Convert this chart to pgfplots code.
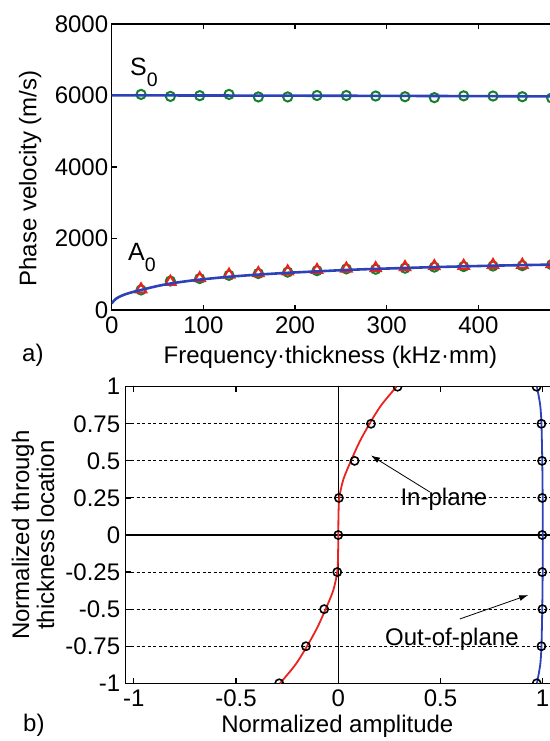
\documentclass[border=0pt]{standalone}
\usepackage{fontspec}
\setmainfont{Liberation Sans}
\usepackage{pgfplots}
\pgfplotsset{compat=1.18}
\usetikzlibrary{arrows.meta}

\definecolor{mgreen}{RGB}{20,128,40}
\definecolor{mred}{RGB}{235,35,30}
\definecolor{mblue}{RGB}{45,65,185}
\newcommand{\fs}{\fontsize{24}{25}\selectfont}

\pgfplotsset{
  myax/.style={
    scale only axis,
    anchor=north west,
    font=\fs,
    /pgf/number format/assume math mode=true,
    axis line style={line width=1.2pt, black},
    every tick/.style={line width=1.2pt, black},
    major tick length=5pt,
    tick align=inside,
    clip marker paths=true,
  }
}

\begin{document}
\begin{tikzpicture}
% ---------------- a) phase velocity ----------------
\begin{axis}[myax,
  at={(111.7pt,-24pt)},
  width=458.3pt, height=286pt,
  xmin=0, xmax=500, ymin=0, ymax=8000,
  xtick={0,100,200,300,400}, xticklabels={0,100,200,300,400},
  ytick={0,2000,4000,6000,8000}, yticklabels={0,2000,4000,6000,8000},
  xticklabel shift=3pt,
  xlabel={Frequency·thickness (kHz·mm)},
  xlabel style={at={(axis description cs:0,0)}, anchor=base, xshift=218.7pt, yshift=-53pt},
  ylabel={Phase velocity (m/s)},
  ylabel style={at={(axis description cs:-0.178,0.46)}, anchor=center},
]
% S0 measured (circles)
\addplot[only marks, mark=o, mark size=4.6pt, mgreen, mark options={line width=2pt}] coordinates {
(32,6030) (64,5975) (96,5995) (128,6030) (160,5960) (192,5960) (224,6000) (256,6000)
(288,5985) (320,5966) (352,5940) (384,5990) (416,5985) (448,5966) (480,5930)};
% A0 measured (circles)
\addplot[only marks, mark=o, mark size=4.6pt, mgreen, mark options={line width=2pt}] coordinates {
(32,560) (64,810) (96,880) (128,970) (160,1020) (192,1060) (224,1100) (256,1150)
(288,1140) (320,1170) (352,1200) (384,1215) (416,1230) (448,1240) (480,1265)};
% A0 measured (triangles)
\addplot[only marks, mark=triangle, mark size=6pt, mred, mark options={line width=2pt}] coordinates {
(32,580) (64,790) (96,890) (128,990) (160,1030) (192,1080) (224,1120) (256,1160)
(288,1170) (320,1200) (352,1225) (384,1235) (416,1260) (448,1265) (480,1285)};
% theory S0
\addplot[mblue, line width=2.6pt] coordinates {
(0,6005) (100,6000) (200,5995) (300,5990) (400,5982) (500,5974)};
% theory A0
\addplot[mblue, line width=2.6pt, smooth] coordinates {
(0,180) (2,250) (5,320) (10,390) (16,450) (24,510) (32,560) (48,660) (64,740) (80,800)
(96,850) (128,930) (160,990) (192,1040) (224,1080) (256,1120) (288,1150) (320,1175)
(352,1200) (384,1220) (416,1240) (448,1255) (480,1270) (500,1278)};
\node[anchor=base west, font=\fontsize{25}{25}\selectfont, inner sep=0pt] at (axis cs:20,6573)
  {S\raisebox{-11pt}{\fontsize{19.5}{19.5}\selectfont 0}};
\node[anchor=base west, font=\fontsize{25}{25}\selectfont, inner sep=0pt] at (axis cs:17.8,1379)
  {A\raisebox{-11pt}{\fontsize{19.5}{19.5}\selectfont 0}};
\end{axis}

% ---------------- b) mode shapes ----------------
\begin{axis}[myax,
  at={(125.7pt,-386.7pt)},
  width=437.4pt, height=296.6pt,
  xmin=-1.04, xmax=1.1, ymin=-1, ymax=1,
  xtick={-1,-0.5,0,0.5,1}, xticklabels={-1,-0.5,0,0.5,1},
  ytick={-1,-0.75,-0.5,-0.25,0,0.25,0.5,0.75,1},
  yticklabels={-1,-0.75,-0.5,-0.25,0,0.25,0.5,0.75,1},
  xticklabel shift=3pt,
  yticklabel shift=2pt,
  ymajorgrids,
  grid style={dash pattern=on 3pt off 2.5pt, line width=1pt, black},
  xlabel={Normalized amplitude},
  xlabel style={at={(axis description cs:0,0)}, anchor=base, xshift=211.6pt, yshift=-49pt},
  ylabel={Normalized through\\thickness location},
  ylabel style={align=center, at={(axis description cs:-0.212,0.5)}, anchor=center},
]
\addplot[black, line width=1.1pt] coordinates {(-1.04,0) (1.1,0)};
\addplot[black, line width=1.1pt] coordinates {(0,-1) (0,1)};
% in-plane theory
\addplot[mred, line width=1.8pt, smooth] coordinates {
(-0.285,-1) (-0.21,-0.875) (-0.153,-0.75) (-0.103,-0.625) (-0.062,-0.5) (-0.025,-0.375)
(-0.005,-0.25) (-0.001,-0.125) (0,0) (0.001,0.125) (0.005,0.25) (0.025,0.375)
(0.062,0.5) (0.103,0.625) (0.153,0.75) (0.21,0.875) (0.285,1)};
% out-of-plane theory
\addplot[mblue, line width=1.8pt, smooth] coordinates {
(0.972,-1) (0.988,-0.875) (0.994,-0.75) (0.998,-0.5) (1.0,-0.25) (1.0,0)
(1.0,0.25) (0.998,0.5) (0.994,0.75) (0.988,0.875) (0.972,1)};
% measured
\addplot[only marks, mark=o, mark size=4.1pt, black, mark options={line width=1.6pt}] coordinates {
(-0.289,-1) (-0.158,-0.75) (-0.069,-0.5) (-0.005,-0.25) (0,0) (0.003,0.25) (0.08,0.5) (0.16,0.75) (0.29,1)};
\addplot[only marks, mark=o, mark size=4.1pt, black, mark options={line width=1.6pt}] coordinates {
(0.971,-1) (0.994,-0.75) (0.999,-0.5) (0.998,-0.25) (0.998,0) (0.998,0.25) (0.997,0.5) (0.994,0.75) (0.970,1)};
\node at (axis cs:0.517,0.24) {In-plane};
\node at (axis cs:0.556,-0.70) {Out-of-plane};
\draw[-{Latex[length=9pt,width=6pt]}, line width=0.8pt] (axis cs:0.448,0.29) -- (axis cs:0.16,0.536);
\draw[-{Latex[length=9pt,width=6pt]}, line width=0.8pt] (axis cs:0.595,-0.566) -- (axis cs:0.929,-0.405);
\end{axis}

\node[anchor=base west, font=\fs, inner sep=0pt] at (22pt,-361pt) {a)};
\node[anchor=base west, font=\fs, inner sep=0pt] at (23pt,-731pt) {b)};

\pgfresetboundingbox
\useasboundingbox (0pt,0pt) rectangle (549pt,-741pt);
\end{tikzpicture}
\end{document}
